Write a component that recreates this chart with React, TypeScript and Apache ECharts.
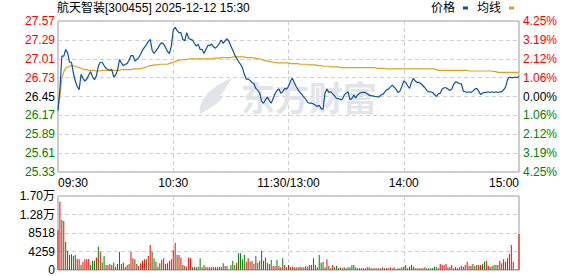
import React, { useEffect, useRef } from "react";
import * as echarts from "echarts";

const chartTitle = "航天智装[300455] 2025-12-12 15:30";
const prevClose = 26.45;
const priceStep = 0.281;
const volMax = 17036;
const shownTimes = ["09:30", "10:30", "11:30", "14:00", "15:00"];
const legendNames = ["价格", "均线"];

const price = [
  26.24, 26.56, 27.05, 27.05, 27.15, 27.10, 26.96, 26.96, 26.80, 26.68,
  26.60, 26.55, 26.78, 26.72, 26.68, 26.71, 26.77, 26.82, 26.74, 26.70,
  26.76, 26.90, 26.96, 26.96, 26.91, 26.87, 26.85, 26.84, 26.85, 26.74,
  26.77, 26.84, 27.00, 26.95, 26.91, 26.93, 26.94, 26.99, 27.06, 27.06,
  26.98, 27.00, 27.03, 27.08, 27.14, 27.18, 27.22, 27.27, 27.30, 27.14,
  27.09, 27.13, 27.17, 27.22, 27.25, 27.23, 27.18, 27.12, 27.09, 27.20,
  27.44, 27.48, 27.43, 27.40, 27.40, 27.30, 27.28, 27.40, 27.32, 27.30,
  27.29, 27.24, 27.20, 27.23, 27.15, 27.15, 27.09, 27.15, 27.21, 27.21,
  27.23, 27.19, 27.17, 27.20, 27.24, 27.29, 27.24, 27.28, 27.31, 27.27,
  27.20, 27.14, 27.07, 27.02, 26.97, 26.93, 26.88, 26.78, 26.71, 26.71,
  26.69, 26.66, 26.64, 26.57, 26.54, 26.50, 26.38, 26.35, 26.40, 26.44,
  26.39, 26.35, 26.42, 26.49, 26.54, 26.56, 26.50, 26.52, 26.57, 26.56,
  26.60, 26.68, 26.72, 26.66, 26.60, 26.55, 26.51, 26.48, 26.44, 26.41,
  26.36, 26.35, 26.35, 26.34, 26.32, 26.30, 26.32, 26.27, 26.26, 26.50,
  26.56, 26.51, 26.52, 26.49, 26.46, 26.42, 26.42, 26.40, 26.41, 26.47,
  26.50, 26.52, 26.40, 26.42, 26.47, 26.43, 26.47, 26.50, 26.51, 26.51,
  26.51, 26.49, 26.47, 26.46, 26.46, 26.45, 26.45, 26.44, 26.47, 26.48,
  26.51, 26.55, 26.56, 26.59, 26.62, 26.59, 26.56, 26.51, 26.53, 26.60,
  26.68, 26.66, 26.61, 26.57, 26.66, 26.72, 26.68, 26.66, 26.66, 26.64,
  26.61, 26.58, 26.54, 26.52, 26.52, 26.51, 26.48, 26.45, 26.49, 26.50,
  26.56, 26.58, 26.58, 26.56, 26.54, 26.56, 26.63, 26.67, 26.66, 26.64,
  26.64, 26.53, 26.52, 26.51, 26.52, 26.51, 26.53, 26.56, 26.57, 26.53,
  26.48, 26.50, 26.51, 26.51, 26.52, 26.51, 26.52, 26.51, 26.52, 26.51,
  26.52, 26.52, 26.55, 26.59, 26.70, 26.74, 26.73, 26.73, 26.74, 26.73,
  26.75,
];

const avgLine = [
  26.28, 26.45, 26.72, 26.82, 26.87, 26.89, 26.90, 26.91, 26.91, 26.90,
  26.89, 26.88, 26.87, 26.86, 26.85, 26.85, 26.84, 26.84, 26.84, 26.84,
  26.83, 26.83, 26.83, 26.84, 26.84, 26.84, 26.84, 26.84, 26.84, 26.84,
  26.84, 26.84, 26.84, 26.85, 26.85, 26.85, 26.85, 26.85, 26.85, 26.86,
  26.86, 26.86, 26.86, 26.87, 26.87, 26.88, 26.89, 26.90, 26.91, 26.91,
  26.92, 26.92, 26.92, 26.93, 26.93, 26.93, 26.93, 26.93, 26.94, 26.95,
  26.96, 26.97, 26.98, 26.99, 26.99, 27.00, 27.00, 27.00, 27.01, 27.01,
  27.01, 27.01, 27.01, 27.01, 27.01, 27.01, 27.01, 27.01, 27.01, 27.01,
  27.01, 27.02, 27.02, 27.02, 27.02, 27.03, 27.03, 27.03, 27.03, 27.03,
  27.03, 27.04, 27.04, 27.04, 27.04, 27.04, 27.04, 27.04, 27.03, 27.03,
  27.03, 27.03, 27.02, 27.02, 27.01, 27.01, 27.00, 26.99, 26.98, 26.98,
  26.97, 26.97, 26.96, 26.96, 26.95, 26.95, 26.95, 26.95, 26.95, 26.95,
  26.95, 26.94, 26.94, 26.94, 26.94, 26.94, 26.93, 26.93, 26.93, 26.93,
  26.93, 26.92, 26.92, 26.92, 26.92, 26.91, 26.91, 26.91, 26.90, 26.90,
  26.90, 26.90, 26.89, 26.89, 26.89, 26.89, 26.89, 26.88, 26.88, 26.88,
  26.88, 26.88, 26.88, 26.88, 26.88, 26.88, 26.88, 26.88, 26.88, 26.88,
  26.88, 26.88, 26.88, 26.88, 26.88, 26.88, 26.87, 26.87, 26.87, 26.87,
  26.87, 26.86, 26.86, 26.86, 26.86, 26.86, 26.86, 26.86, 26.86, 26.86,
  26.86, 26.86, 26.86, 26.86, 26.86, 26.86, 26.86, 26.86, 26.86, 26.86,
  26.86, 26.86, 26.86, 26.86, 26.86, 26.86, 26.86, 26.85, 26.84, 26.84,
  26.84, 26.84, 26.84, 26.84, 26.84, 26.84, 26.84, 26.84, 26.84, 26.84,
  26.84, 26.84, 26.84, 26.84, 26.83, 26.83, 26.83, 26.83, 26.83, 26.83,
  26.83, 26.83, 26.83, 26.83, 26.83, 26.83, 26.83, 26.82, 26.82, 26.81,
  26.81, 26.81, 26.81, 26.81, 26.81, 26.81, 26.81, 26.81, 26.81, 26.81,
  26.81,
];

const volume = [
  9200, 15700, 11500, 11300, 6500, 4450, 3450, 3600, 3200, 3450,
  2530, 2450, 1150, 1900, 2450, 2450, 2530, 1150, 2150, 2150,
  2900, 5370, 4220, 1760, 3220, 1150, 1150, 1380, 1150, 1690,
  770, 1380, 4220, 1380, 1690, 770, 1150, 1380, 4220, 2680,
  2450, 1380, 920, 1530, 2150, 2450, 2450, 3220, 5750, 4220,
  2680, 1920, 770, 1530, 2300, 2680, 1380, 1530, 2150, 2450,
  4600, 6290, 3450, 3450, 2900, 1150, 920, 770, 2900, 2680,
  610, 770, 610, 770, 2680, 610, 1150, 770, 610, 610,
  610, 610, 610, 610, 770, 770, 1530, 920, 920, 150,
  1150, 2150, 1150, 1690, 3840, 3840, 2450, 3450, 1920, 2680,
  1920, 2150, 1380, 3220, 1690, 2150, 4450, 2150, 2900, 1690,
  1380, 2300, 920, 920, 2300, 920, 610, 2680, 1150, 610,
  1150, 610, 770, 610, 610, 610, 770, 610, 610, 920,
  770, 1150, 1150, 2680, 1150, 610, 3450, 1690, 1920, 610,
  2450, 920, 380, 1150, 610, 920, 380, 610, 380, 610,
  380, 610, 610, 1150, 1150, 610, 380, 380, 380, 380,
  380, 610, 610, 380, 380, 380, 380, 380, 380, 610,
  380, 380, 380, 610, 380, 610, 150, 380, 380, 610,
  770, 1150, 380, 770, 1150, 770, 380, 380, 380, 380,
  380, 610, 380, 380, 380, 380, 770, 610, 380, 1380,
  1150, 1150, 1380, 610, 610, 1150, 380, 770, 380, 610,
  920, 770, 1150, 1920, 920, 920, 1380, 920, 1150, 1150,
  1150, 1300, 1920, 2150, 920, 610, 920, 1150, 1150, 1150,
  2150, 1530, 2450, 1920, 2680, 3680, 5750, 1920, 150, 150,
  8280,
];

// 1 = up (red), 0 = down (green)
const volUp = [
  1, 1, 0, 1, 0, 1, 0, 0, 0, 0,
  1, 1, 0, 1, 1, 1, 1, 0, 0, 0,
  1, 0, 1, 0, 0, 1, 1, 0, 1, 0,
  1, 0, 1, 0, 0, 1, 1, 0, 1, 1,
  0, 1, 0, 1, 1, 1, 0, 1, 1, 0,
  0, 1, 0, 0, 1, 1, 0, 1, 1, 1,
  1, 1, 0, 1, 1, 0, 1, 0, 1, 1,
  0, 0, 1, 0, 0, 1, 0, 1, 1, 1,
  1, 1, 1, 1, 1, 1, 0, 0, 1, 0,
  0, 0, 0, 1, 0, 0, 0, 0, 1, 1,
  0, 1, 1, 0, 0, 1, 0, 1, 1, 0,
  0, 0, 1, 1, 0, 1, 1, 0, 1, 0,
  1, 0, 1, 1, 0, 1, 0, 1, 0, 1,
  1, 1, 1, 0, 1, 0, 0, 0, 0, 1,
  1, 0, 1, 1, 0, 0, 1, 0, 1, 0,
  1, 0, 0, 0, 0, 0, 1, 1, 1, 1,
  1, 1, 1, 0, 1, 1, 0, 1, 0, 1,
  0, 1, 1, 1, 0, 1, 0, 0, 1, 0,
  0, 1, 0, 1, 0, 1, 0, 1, 0, 1,
  1, 0, 1, 0, 0, 0, 0, 0, 1, 1,
  1, 1, 1, 0, 1, 1, 0, 1, 0, 1,
  1, 1, 0, 1, 1, 0, 1, 0, 0, 1,
  1, 0, 0, 1, 1, 0, 0, 0, 1, 0,
  1, 0, 1, 1, 1, 1, 1, 1, 0, 1,
  1,
];

const RED = "#ff0000";
const GREEN = "#008000";
const BLUE = "#0b52a6";
const ORANGE = "#e0a21c";
const FONT = "'Liberation Sans', 'Noto Sans CJK SC', sans-serif";

function buildTimes(): string[] {
  const out: string[] = [];
  const fmt = (t: number) =>
    `${String(Math.floor(t / 60)).padStart(2, "0")}:${String(t % 60).padStart(2, "0")}`;
  for (let t = 9 * 60 + 30; t <= 11 * 60 + 30; t++) out.push(fmt(t));
  for (let t = 13 * 60 + 1; t <= 15 * 60; t++) out.push(fmt(t));
  return out;
}

const featherPath =
  "M2 36 C0 26 8 10 34 0 C29 8 26 14 20 20 L26 17 C22 24 16 29 8 31 L14 28 C10 32 6 34 2 36 Z";

export default function App() {
  const ref = useRef<HTMLDivElement>(null);
  useEffect(() => {
    if (!ref.current) return;
    try {
      echarts.graphic.registerShape("feather", echarts.graphic.extendPath(featherPath, {}) as any);
    } catch (e) {}
    const chart = echarts.init(ref.current, undefined, { renderer: "svg" });
    const times = buildTimes();
    const isShown = (_i: number, v: string) => shownTimes.includes(v);
    const splitIdx = (i: number) => {
      const v = times[i];
      return v === "10:30" || v === "11:30" || v === "14:00";
    };
    const labelColor = (v: any) => {
      const n = Number(v);
      return n > 1e-9 ? RED : n < -1e-9 ? GREEN : "#000";
    };
    const dashed = { color: "#d0d0d0", type: [4, 3] as any, width: 1 };
    chart.setOption({
      animation: false,
      backgroundColor: "#fff",
      title: {
        text: chartTitle,
        left: 57,
        top: 2,
        padding: 0,
        textStyle: { fontSize: 12, fontWeight: "normal", color: "#000", fontFamily: FONT },
      },
      legend: {
        data: legendNames,
        left: 431,
        top: 2,
        padding: 0,
        icon: "rect",
        itemWidth: 5,
        itemHeight: 3,
        itemGap: 9,
        align: "right",
        textStyle: { fontSize: 12, color: "#000", fontFamily: FONT, padding: [0, 3, 0, 0] },
      },
      graphic: [
        {
          type: "feather",
          x: 198,
          y: 78,
          z: 1,
          style: { fill: "#e3e4ea" },
        },
        {
          type: "text",
          x: 241,
          y: 96,
          z: 1,
          style: {
            text: "东方财富",
            fontSize: 34,
            fontWeight: "bold",
            fontFamily: "'Noto Sans CJK SC', sans-serif",
            fill: "#e3e4ea",
            verticalAlign: "middle",
          },
        },
      ],
      grid: [
        { left: 58, right: 59, top: 21, height: 151, show: true, borderColor: "#999", borderWidth: 1 },
        { left: 58, right: 59, top: 196, height: 74, show: true, borderColor: "#999", borderWidth: 1 },
      ],
      xAxis: [
        {
          type: "category",
          gridIndex: 0,
          data: times,
          boundaryGap: false,
          axisLine: { show: false },
          axisTick: { show: false },
          axisLabel: {
            interval: isShown,
            formatter: (v: string) => (v === "11:30" ? "11:30/13:00" : v),
            alignMinLabel: "left",
            alignMaxLabel: "right",
            margin: 5,
            color: "#000",
            fontSize: 12,
            fontFamily: FONT,
          },
          splitLine: { show: true, interval: splitIdx, lineStyle: dashed },
        },
        {
          type: "category",
          gridIndex: 1,
          data: times,
          boundaryGap: false,
          axisLine: { show: false },
          axisTick: { show: false },
          axisLabel: { show: false },
          splitLine: { show: true, interval: splitIdx, lineStyle: dashed },
        },
      ],
      yAxis: [
        {
          type: "value",
          gridIndex: 0,
          min: -4,
          max: 4,
          interval: 1,
          axisLine: { show: false },
          axisTick: { show: false },
          splitLine: { show: true, lineStyle: dashed },
          axisLabel: {
            margin: 3,
            fontSize: 12,
            fontFamily: FONT,
            formatter: (v: number) => (prevClose + v * priceStep).toFixed(2),
            color: labelColor,
          },
        },
        {
          type: "value",
          gridIndex: 0,
          position: "right",
          min: -4,
          max: 4,
          interval: 1,
          axisLine: { show: false },
          axisTick: { show: false },
          splitLine: { show: false },
          axisLabel: {
            margin: 4,
            fontSize: 12,
            fontFamily: FONT,
            formatter: (v: number) => ((Math.abs(v) * priceStep) / prevClose * 100).toFixed(2) + "%",
            color: labelColor,
          },
        },
        {
          type: "value",
          gridIndex: 1,
          min: 0,
          max: volMax,
          interval: volMax / 4,
          axisLine: { show: false },
          axisTick: { show: false },
          splitLine: { show: true, lineStyle: dashed },
          axisLabel: {
            margin: 3,
            fontSize: 12,
            fontFamily: FONT,
            color: "#000",
            formatter: (v: number) => (v >= 10000 ? (v / 10000).toFixed(2) + "万" : String(Math.round(v))),
          },
        },
      ],
      series: [
        {
          name: "价格",
          type: "line",
          xAxisIndex: 0,
          yAxisIndex: 0,
          data: price.map((p) => (p - prevClose) / priceStep),
          showSymbol: false,
          symbol: "none",
          lineStyle: { color: BLUE, width: 1.2 },
          itemStyle: { color: BLUE },
          z: 4,
        },
        {
          name: "均线",
          type: "line",
          xAxisIndex: 0,
          yAxisIndex: 0,
          data: avgLine.map((p) => (p - prevClose) / priceStep),
          showSymbol: false,
          symbol: "none",
          lineStyle: { color: ORANGE, width: 1.2 },
          itemStyle: { color: ORANGE },
          z: 3,
        },
        {
          name: "成交量",
          type: "bar",
          xAxisIndex: 1,
          yAxisIndex: 2,
          barWidth: 1,
          data: volume.map((v, i) => ({ value: v, itemStyle: { color: volUp[i] ? RED : GREEN } })),
        },
      ],
    });
    return () => chart.dispose();
  }, []);
  return (
    <div
      ref={ref}
      style={{ position: "fixed", left: 0, top: 0, width: 578, height: 276, background: "#fff" }}
    />
  );
}
